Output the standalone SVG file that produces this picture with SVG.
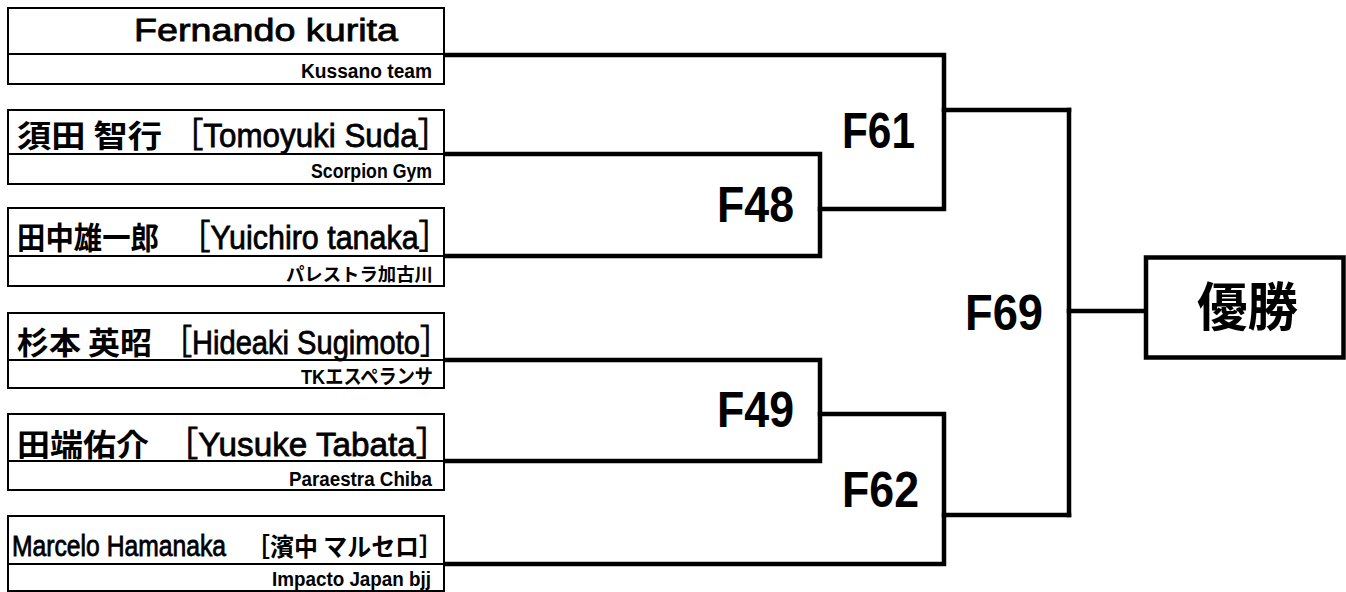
<svg xmlns="http://www.w3.org/2000/svg" width="1346" height="592" viewBox="0 0 1346 592">
<style>
.box{fill:#fff;stroke:#000;stroke-width:2}
.div{stroke:#000;stroke-width:2}
.br{fill:none;stroke:#000;stroke-width:4.5;stroke-linejoin:miter;stroke-linecap:square}
.la{font-family:"Liberation Sans","Noto Sans CJK JP",sans-serif;font-size:34px;fill:#000;stroke:#000;stroke-width:0.8}
.jp{font-family:"Noto Sans CJK JP",sans-serif;font-weight:700;font-size:31px;fill:#000}
.tm{font-family:"Liberation Sans","Noto Sans CJK JP",sans-serif;font-weight:700;font-size:20px;fill:#000}
.tj{font-family:"Noto Sans CJK JP",sans-serif;font-weight:700;font-size:18px;fill:#000}
.lbl{font-family:"Liberation Sans",sans-serif;font-weight:700;font-size:50px;fill:#000}
.win{font-family:"Noto Sans CJK JP",sans-serif;font-weight:700;font-size:52px;fill:#000}
</style>
<rect width="1346" height="592" fill="#fff"/>
<g id="connectors">
<path class="br" d="M444,55 H944 V209 H820"/>
<path class="br" d="M444,154 H820 V256 H444"/>
<path class="br" d="M944,110 H1069"/>
<path class="br" d="M444,360 H820 V461 H444"/>
<path class="br" d="M820,414 H944 V564 H444"/>
<path class="br" d="M944,515 H1069"/>
<path class="br" d="M1069,110 V515"/>
<path class="br" d="M1069,311 H1146"/>
</g>
<g id="p1">
<rect class="box" x="8" y="8" width="436" height="76"/>
<line class="div" x1="8" y1="54" x2="444" y2="54"/>
<text class="la" style="font-size:32px" x="134" y="41" textLength="264" lengthAdjust="spacingAndGlyphs">Fernando kurita</text>
<text class="tm" x="301" y="78" textLength="131" lengthAdjust="spacingAndGlyphs">Kussano team</text>
</g>
<g id="p2">
<rect class="box" x="8" y="110" width="436" height="74"/>
<line class="div" x1="8" y1="154" x2="444" y2="154"/>
<text y="147"><tspan class="jp" x="17" textLength="145" lengthAdjust="spacingAndGlyphs">須田 智行</tspan> <tspan class="la" x="172" textLength="277" lengthAdjust="spacingAndGlyphs">［Tomoyuki Suda］</tspan></text>
<text class="tm" x="311" y="178" textLength="121" lengthAdjust="spacingAndGlyphs">Scorpion Gym</text>
</g>
<g id="p3">
<rect class="box" x="8" y="208" width="436" height="78"/>
<line class="div" x1="8" y1="256" x2="444" y2="256"/>
<text y="249"><tspan class="jp" x="17" textLength="142" lengthAdjust="spacingAndGlyphs">田中雄一郎</tspan> <tspan class="la" x="180" textLength="269" lengthAdjust="spacingAndGlyphs">［Yuichiro tanaka］</tspan></text>
<text class="tj" x="286" y="281" textLength="147" lengthAdjust="spacingAndGlyphs">パレストラ加古川</text>
</g>
<g id="p4">
<rect class="box" x="8" y="313" width="436" height="75"/>
<line class="div" x1="8" y1="360" x2="444" y2="360"/>
<text y="354"><tspan class="jp" x="17" textLength="135" lengthAdjust="spacingAndGlyphs">杉本 英昭</tspan> <tspan class="la" x="163" textLength="286" lengthAdjust="spacingAndGlyphs">［Hideaki Sugimoto］</tspan></text>
<text class="tm" x="301" y="384" textLength="132" lengthAdjust="spacingAndGlyphs">TKエスペランサ</text>
</g>
<g id="p5">
<rect class="box" x="8" y="414" width="436" height="76"/>
<line class="div" x1="8" y1="461" x2="444" y2="461"/>
<text y="456"><tspan class="jp" x="17" textLength="132" lengthAdjust="spacingAndGlyphs">田端佑介</tspan> <tspan class="la" x="165" textLength="284" lengthAdjust="spacingAndGlyphs">［Yusuke Tabata］</tspan></text>
<text class="tm" x="289" y="486" textLength="143" lengthAdjust="spacingAndGlyphs">Paraestra Chiba</text>
</g>
<g id="p6">
<rect class="box" x="8" y="516" width="436" height="75"/>
<line class="div" x1="8" y1="564" x2="444" y2="564"/>
<text y="556"><tspan class="la" style="font-size:29px" x="12" textLength="214" lengthAdjust="spacingAndGlyphs">Marcelo Hamanaka</tspan> <tspan class="jp" style="font-size:25px" x="246" textLength="197" lengthAdjust="spacingAndGlyphs">［濱中 マルセロ］</tspan></text>
<text class="tm" x="272" y="586" textLength="159" lengthAdjust="spacingAndGlyphs">Impacto Japan bjj</text>
</g>
<g id="F48"><text class="lbl" x="717" y="222" textLength="77" lengthAdjust="spacingAndGlyphs">F48</text></g>
<g id="F49"><text class="lbl" x="717" y="427" textLength="77" lengthAdjust="spacingAndGlyphs">F49</text></g>
<g id="F61"><text class="lbl" x="842" y="148" textLength="73" lengthAdjust="spacingAndGlyphs">F61</text></g>
<g id="F62"><text class="lbl" x="842" y="507" textLength="77" lengthAdjust="spacingAndGlyphs">F62</text></g>
<g id="F69"><text class="lbl" x="965" y="330" textLength="78" lengthAdjust="spacingAndGlyphs">F69</text></g>
<g id="winner">
<rect x="1146" y="257.5" width="197.5" height="100" fill="#fff" stroke="#000" stroke-width="4.5"/>
<text class="win" x="1197" y="326" textLength="101" lengthAdjust="spacingAndGlyphs">優勝</text>
</g>
</svg>
